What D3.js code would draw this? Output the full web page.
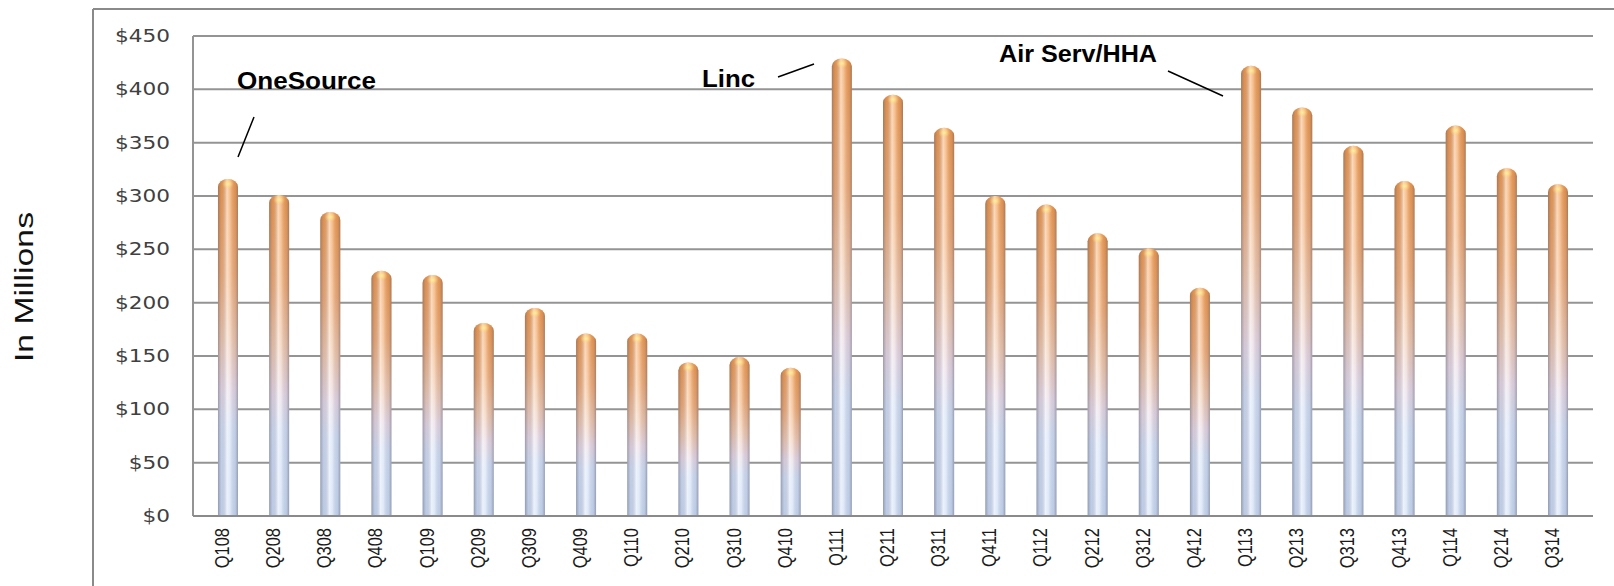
<!DOCTYPE html>
<html lang="en">
<head>
<meta charset="utf-8">
<title>Revenue by quarter</title>
<script src="https://cdnjs.cloudflare.com/ajax/libs/d3/7.8.5/d3.min.js"></script>
<style>
body { margin: 0; background: #fff; }
svg { display: block; }
</style>
</head>
<body>
<div id="chart"></div>
<script>

// quarters and values (in millions)
var quarters = ['Q108','Q208','Q308','Q408','Q109','Q209','Q309','Q409','Q110','Q210','Q310','Q410',
                'Q111','Q211','Q311','Q411','Q112','Q212','Q312','Q412','Q113','Q213','Q313','Q413',
                'Q114','Q214','Q314']
var values = [316, 301, 285, 230, 226, 181, 195, 171, 171, 144, 149, 139,
              429, 395, 364, 300, 292, 265, 251, 214, 422, 383, 347, 314,
              366, 326, 311]
var yTicks = [0, 50, 100, 150, 200, 250, 300, 350, 400, 450]
var notes = ['OneSource', 'Linc', 'Air Serv/HHA']

var svgWidth = 1614, svgHeight = 586
var plot = { left: 193, right: 1593, top: 36, bottom: 516 }

var svg = d3.select('#chart').append('svg')
    .attr('width', svgWidth)
    .attr('height', svgHeight)

var defs = svg.append('defs')

// vertical colour blend: orange at the top, light blue at the bottom
var vGrad = defs.append('linearGradient')
    .attr('id', 'barFill')
    .attr('x1', 0).attr('y1', 0).attr('x2', 0).attr('y2', 1)
vGrad.selectAll('stop')
    .data([[0, '#f2913a'], [0.28, '#f3a566'], [0.48, '#f0c4a6'], [0.62, '#e6d6e2'], [0.74, '#cfdef5'], [1, '#c8daf4']])
    .enter().append('stop')
    .attr('offset', function(d) { return d[0] })
    .attr('stop-color', function(d) { return d[1] })

// horizontal shading so the bars look round
var hGrad = defs.append('linearGradient')
    .attr('id', 'barShade')
    .attr('x1', 0).attr('y1', 0).attr('x2', 1).attr('y2', 0)
hGrad.selectAll('stop')
    .data([[0, '#5a5a70', 0.5], [0.18, '#8a8aa0', 0.18], [0.45, '#ffffff', 0.65], [0.6, '#ffffff', 0.4], [0.85, '#8a8aa0', 0.18], [1, '#5a5a70', 0.5]])
    .enter().append('stop')
    .attr('offset', function(d) { return d[0] })
    .attr('stop-color', function(d) { return d[1] })
    .attr('stop-opacity', function(d) { return d[2] })

var glint = defs.append('radialGradient').attr('id', 'glint')
glint.append('stop').attr('offset', 0).attr('stop-color', '#fff3a0').attr('stop-opacity', 0.95)
glint.append('stop').attr('offset', 1).attr('stop-color', '#ffd070').attr('stop-opacity', 0)

// outer frame
svg.append('line')
    .attr('x1', 93).attr('x2', svgWidth).attr('y1', 9).attr('y2', 9)
    .attr('stroke', '#8a8a8a').attr('stroke-width', 2)
svg.append('line')
    .attr('x1', 93).attr('x2', 93).attr('y1', 9).attr('y2', svgHeight)
    .attr('stroke', '#8a8a8a').attr('stroke-width', 2)

var x = d3.scaleBand()
    .domain(quarters)
    .range([202.4, 1583.6])
    .padding(0)

var y = d3.scaleLinear()
    .domain([0, 450])
    .range([plot.bottom, plot.top])

// gridlines
svg.append('g').selectAll('line')
    .data(yTicks)
    .enter().append('line')
    .attr('x1', plot.left).attr('x2', plot.right)
    .attr('y1', function(d) { return y(d) }).attr('y2', function(d) { return y(d) })
    .attr('stroke', '#949494').attr('stroke-width', 2)

svg.append('line')
    .attr('x1', plot.left).attr('x2', plot.left)
    .attr('y1', plot.top).attr('y2', plot.bottom)
    .attr('stroke', '#949494').attr('stroke-width', 2)

// y tick labels
svg.append('g').selectAll('text')
    .data(yTicks)
    .enter().append('text')
    .attr('transform', function(d) { return 'translate(170,' + (y(d) + 6) + ') scale(1.2,1)' })
    .attr('text-anchor', 'end')
    .attr('font-family', 'DejaVu Sans')
    .attr('font-size', 18)
    .attr('fill', '#404040')
    .text(function(d) { return '$' + d })

var barW = 20, capRy = 8

function barPath(d, i) {
    var cx = x(quarters[i]) + x.bandwidth() / 2
    var x0 = cx - barW / 2, x1 = cx + barW / 2
    var top = y(d), base = y(0)
    return 'M' + x0 + ',' + base +
        'V' + (top + capRy) +
        'A' + (barW / 2) + ',' + capRy + ' 0 0 1 ' + x1 + ',' + (top + capRy) +
        'V' + base + 'Z'
}

var bars = svg.append('g')
bars.selectAll('path.fill')
    .data(values)
    .enter().append('path')
    .attr('class', 'fill')
    .attr('d', barPath)
    .attr('fill', 'url(#barFill)')
bars.selectAll('path.shade')
    .data(values)
    .enter().append('path')
    .attr('class', 'shade')
    .attr('d', barPath)
    .attr('fill', 'url(#barShade)')
bars.selectAll('ellipse')
    .data(values)
    .enter().append('ellipse')
    .attr('cx', function(d, i) { return x(quarters[i]) + x.bandwidth() / 2 })
    .attr('cy', function(d) { return y(d) + 5 })
    .attr('rx', 6).attr('ry', 5)
    .attr('fill', 'url(#glint)')

// x axis line and labels
svg.append('line')
    .attr('x1', plot.left).attr('x2', plot.right)
    .attr('y1', plot.bottom).attr('y2', plot.bottom)
    .attr('stroke', '#8a8a8a').attr('stroke-width', 2)

svg.append('g').selectAll('text')
    .data(quarters)
    .enter().append('text')
    .attr('transform', function(d) {
        return 'translate(' + (x(d) + x.bandwidth() / 2 + 1) + ',' + (plot.bottom + 12) + ') scale(1.25,1) rotate(-90)'
    })
    .attr('text-anchor', 'end')
    .attr('font-family', 'Liberation Sans, Arial')
    .attr('font-size', 16.5)
    .attr('fill', '#1a1a1a')
    .text(function(d) { return d })

// axis title
svg.append('text')
    .attr('transform', 'translate(33,287) rotate(-90)')
    .attr('text-anchor', 'middle')
    .attr('font-family', 'Liberation Sans, Arial')
    .attr('font-size', 26)
    .attr('textLength', 150)
    .attr('lengthAdjust', 'spacingAndGlyphs')
    .attr('fill', '#111')
    .text('In Millions')

// acquisition notes with pointer lines
var noteText = [
    { x: 237, y: 89, len: 139 },
    { x: 702, y: 87, len: 53 },
    { x: 999, y: 62, len: 158 }
]
var noteLines = [
    [254, 117, 238, 157],
    [778, 77, 814, 64],
    [1168, 71, 1223, 96]
]
svg.append('g').selectAll('text')
    .data(notes)
    .enter().append('text')
    .attr('x', function(d, i) { return noteText[i].x })
    .attr('y', function(d, i) { return noteText[i].y })
    .attr('textLength', function(d, i) { return noteText[i].len })
    .attr('lengthAdjust', 'spacingAndGlyphs')
    .attr('font-family', 'Liberation Sans, Arial')
    .attr('font-weight', 'bold')
    .attr('font-size', 23)
    .attr('fill', '#000')
    .text(function(d) { return d })
svg.append('g').selectAll('line')
    .data(noteLines)
    .enter().append('line')
    .attr('x1', function(d) { return d[0] }).attr('y1', function(d) { return d[1] })
    .attr('x2', function(d) { return d[2] }).attr('y2', function(d) { return d[3] })
    .attr('stroke', '#000').attr('stroke-width', 1.5)

</script>
</body>
</html>
